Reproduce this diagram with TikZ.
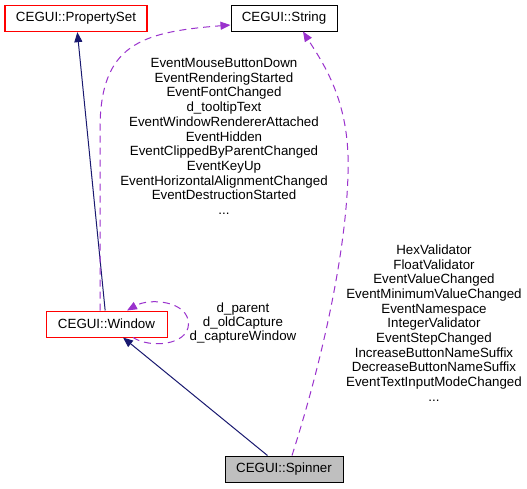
\documentclass[tikz,border=0pt]{standalone}
\usepackage{fontspec}
\setmainfont{Liberation Sans}
\usetikzlibrary{arrows.meta,calc}
\definecolor{navyedge}{HTML}{191970}
\definecolor{purpedge}{HTML}{9A32CD}
\definecolor{spinfill}{HTML}{BFBFBF}
\definecolor{redbox}{HTML}{FF0000}
\tikzset{
  cls/.style={line width=1pt, inner sep=0pt, minimum height=26pt,
    font=\fontsize{13.33}{14.7}\selectfont},
  redcls/.style={cls, draw=redbox},
  blackcls/.style={cls, draw=black},
  inherit/.style={draw=navyedge, line width=1pt,
    -{Triangle[length=10pt,width=8pt]}, navyedge},
  usage/.style={draw=purpedge, line width=1pt, dash pattern=on 7pt off 5pt,
    -{Triangle[length=10pt,width=8pt]}},
  lbl/.style={align=center, inner sep=0pt, font=\fontsize{13.33}{14.7}\selectfont}
}
\begin{document}
\begin{tikzpicture}[x=1pt,y=-1pt]
\useasboundingbox[fill=white] (0,0) rectangle (527,488);
\node[blackcls, minimum width=106pt] (str) at (284,18) {CEGUI::String};
\node[redcls, minimum width=142pt, line width=1.3pt] (ps) at (76,18.5) {CEGUI::PropertySet};
\node[redcls, minimum width=121pt] (win) at (106.5,324) {CEGUI::Window};
\node[blackcls, fill=spinfill, minimum width=118pt] (sp) at (284,469) {CEGUI::Spinner};

\draw[inherit] (win) -- (ps);
\draw[inherit] (sp) -- (win);

\draw[usage] ($(win.north)+(-6.5,0)$) -- ($(win.north)+(-6.5,-181)$)
  .. controls ($(win.north)+(-6.5,-266)$) and ($(str.west)+(-90,14)$) .. ($(str.west)+(0,7)$);
\draw[usage] ($(sp.north)+(8,0)$) .. controls ($(sp.north)+(40,-100)$) and ($(sp.north)+(66,-220)$)
  .. ($(sp.north)+(64,-300)$) .. controls ($(sp.north)+(62,-360)$) and ($(str.south)+(38,30)$) .. ($(str.south)+(19,0)$);
\draw[usage] ($(win.south)+(26.5,0)$) .. controls ($(win.south)+(43.5,11)$) and ($(win.south)+(81.5,8)$)
  .. ($(win.east)+(21,0)$) .. controls ($(win.east)+(21,-23)$) and ($(win.north)+(43.5,-13)$) .. ($(win.north)+(20.5,0)$);

\node[lbl] (l1) at (224,136.5) {EventMouseButtonDown\\EventRenderingStarted\\EventFontChanged\\d\_tooltipText\\EventWindowRendererAttached\\EventHidden\\EventClippedByParentChanged\\EventKeyUp\\EventHorizontalAlignmentChanged\\EventDestructionStarted\\...};
\node[lbl] (l2) at (434,323) {HexValidator\\FloatValidator\\EventValueChanged\\EventMinimumValueChanged\\EventNamespace\\IntegerValidator\\EventStepChanged\\IncreaseButtonNameSuffix\\DecreaseButtonNameSuffix\\EventTextInputModeChanged\\...};
\node[lbl, font=\fontsize{13.33}{14}\selectfont] (l3) at (243,323) {d\_parent\\d\_oldCapture\\d\_captureWindow};
\end{tikzpicture}
\end{document}
